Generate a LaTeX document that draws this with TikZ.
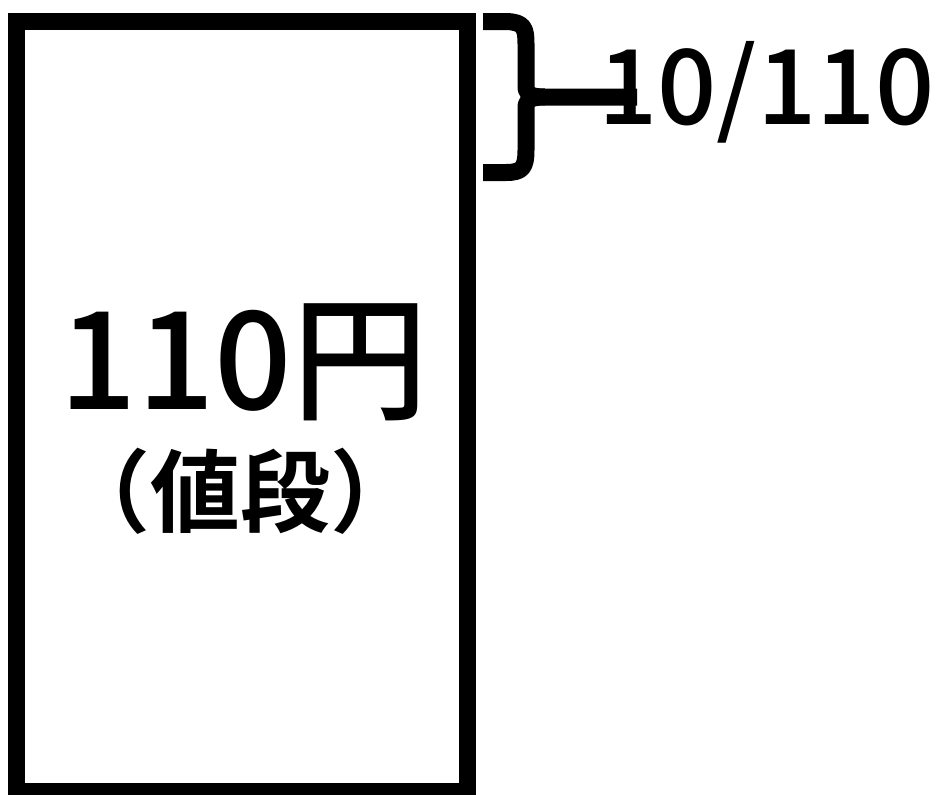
\documentclass[tikz,border=0pt]{standalone}
\usepackage{fontspec}
\newfontfamily\jpm{Noto Sans CJK JP Medium}
\newfontfamily\jpb{Noto Sans CJK JP Bold}
\begin{document}
\begin{tikzpicture}[x=1pt,y=-1pt,
  thick line/.style={line width=17pt},
  bigtext/.style={inner sep=0pt,font=\jpm\fontsize{136}{140}\selectfont},
  subtext/.style={inner sep=0pt,font=\jpb\fontsize{90}{96}\selectfont},
  ratiotext/.style={inner sep=0pt,anchor=west,font=\jpm\fontsize{104}{110}\selectfont}]
\useasboundingbox (0,0) rectangle (943,795);
\node[draw,thick line,minimum width=450.5pt,minimum height=770pt,inner sep=0pt] (box) at (241.75,406) {};
\node[bigtext] (price) at (244,362) {110円};
\node[subtext] (label) at (240,491) {（値段）};
\node[ratiotext] (ratio) at (598,92) {10/110};
\coordinate (stemend) at (637,97);
\draw[thick line,line cap=butt,line join=round]
  (483,21.5) -- (506,21.5) .. controls (524,22) and (526,28) .. (526,44)
  -- (526,86) .. controls (526,94) and (530,97) .. (545,97) -- (stemend);
\draw[thick line,line cap=butt,line join=round]
  (545,97) .. controls (530,97) and (526,100) .. (526,108)
  -- (526,150) .. controls (526,168) and (522,172.5) .. (506,172.5) -- (483,172.5);
\end{tikzpicture}
\end{document}
